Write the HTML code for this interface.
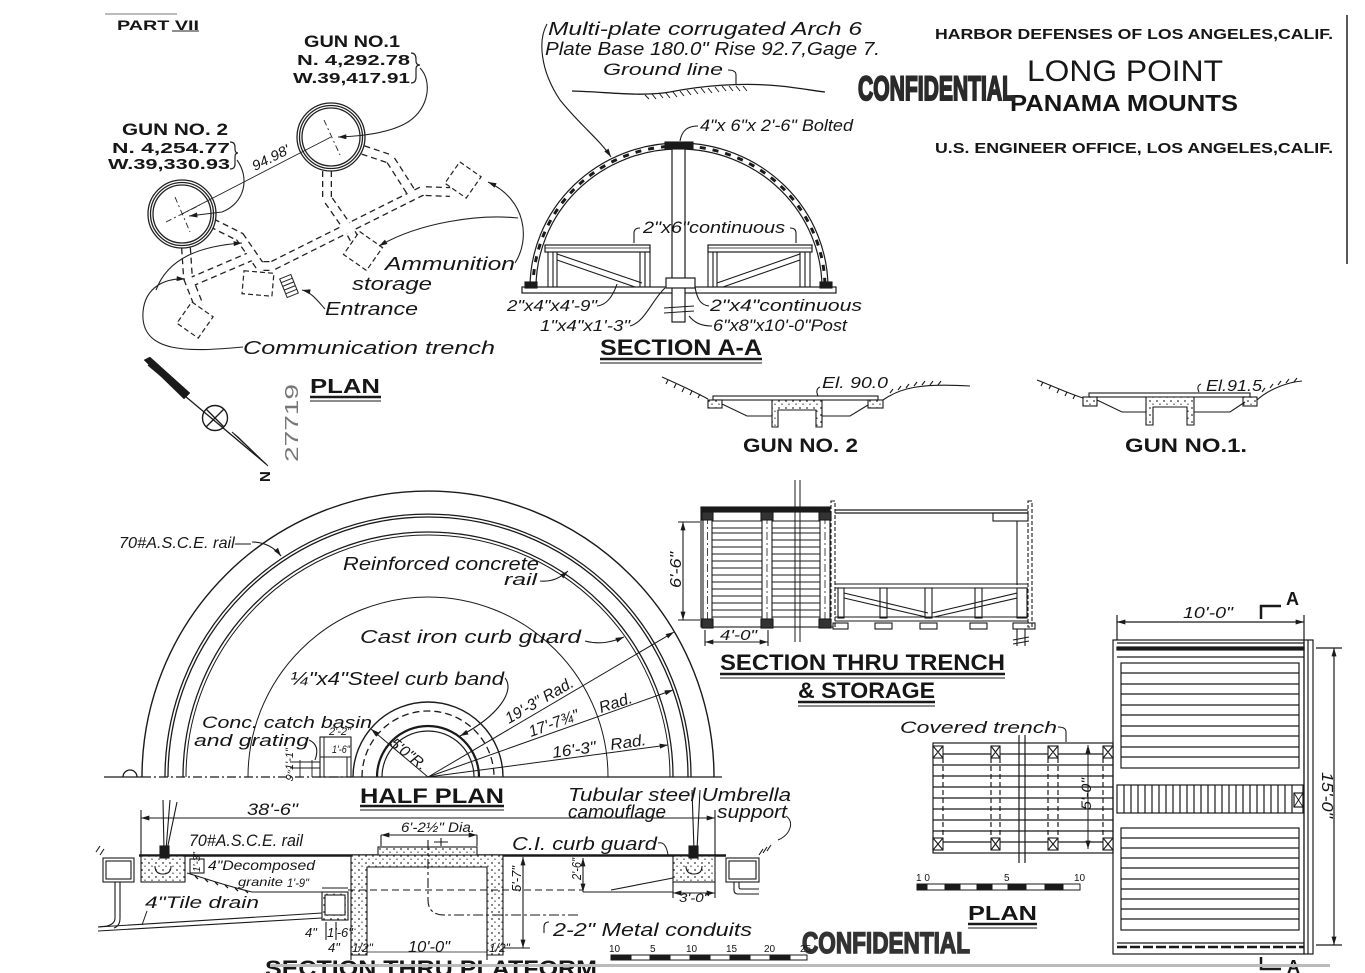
<!DOCTYPE html>
<html><head><meta charset="utf-8">
<style>
html,body{margin:0;padding:0;background:#fff;}
svg{display:block;}
text{font-family:"Liberation Sans",sans-serif;fill:#161616;}
.i{font-style:italic;}
.b{font-weight:bold;}
</style></head><body>
<svg width="1365" height="973" viewBox="0 0 1365 973" xmlns="http://www.w3.org/2000/svg">
<defs>
<marker id="ah" viewBox="0 0 10 6" refX="10" refY="3" markerWidth="9" markerHeight="5" orient="auto-start-reverse" markerUnits="userSpaceOnUse"><path d="M0,0 L10,3 L0,6 z" fill="#1a1a1a"/></marker>
<pattern id="st" width="7" height="7" patternUnits="userSpaceOnUse"><rect width="7" height="7" fill="#fff"/><circle cx="2" cy="2" r="0.9" fill="#333"/><circle cx="5" cy="5.2" r="0.7" fill="#333"/></pattern>
</defs>
<rect width="1365" height="973" fill="#fff"/>

<!-- ============ TOP-LEFT PLAN ============ -->
<line x1="105" y1="14" x2="177" y2="14" stroke="#777" stroke-width="1"/>
<text x="117" y="30" class="b" font-size="14" textLength="82" lengthAdjust="spacingAndGlyphs">PART VII</text>
<line x1="172" y1="31" x2="199" y2="31" stroke="#222" stroke-width="1"/>

<text x="304" y="47" class="b" font-size="17" textLength="96" lengthAdjust="spacingAndGlyphs">GUN NO.1</text>
<text x="297" y="65" class="b" font-size="15" textLength="113" lengthAdjust="spacingAndGlyphs">N. 4,292.78</text>
<text x="293" y="83" class="b" font-size="15" textLength="117" lengthAdjust="spacingAndGlyphs">W.39,417.91</text>
<path d="M411,53 q5,0 5,6 v2 q0,4 4,4 q-4,0 -4,4 v8 q0,6 -5,6" fill="none" stroke="#222" stroke-width="1.2"/>

<text x="122" y="135" class="b" font-size="17" textLength="106" lengthAdjust="spacingAndGlyphs">GUN NO. 2</text>
<text x="112" y="153" class="b" font-size="15" textLength="118" lengthAdjust="spacingAndGlyphs">N. 4,254.77</text>
<text x="108" y="169" class="b" font-size="15" textLength="122" lengthAdjust="spacingAndGlyphs">W.39,330.93</text>
<path d="M230,142 q5,0 5,5 v2 q0,4 3,4 q-3,0 -3,4 v7 q0,5 -5,5" fill="none" stroke="#222" stroke-width="1.2"/>

<!-- trenches (dashed double lines) -->
<g fill="none" stroke-linejoin="miter">
<g stroke="#222" stroke-width="10" stroke-dasharray="6 4">
<path d="M327,171 L327,198 L350,231 L356,242"/>
<path d="M212,223 L240,237 L260,266 L272,266 L410,197 L422,191 L450,192"/>
<path d="M363,150 L390,159 L413,195"/>
<path d="M186,248 L188,278 L199,306"/>
<path d="M191,282 L254,255"/>
</g>
<g stroke="#fff" stroke-width="7.4">
<path d="M327,171 L327,198 L350,231 L356,242"/>
<path d="M212,223 L240,237 L260,266 L272,266 L410,197 L422,191 L450,192"/>
<path d="M363,150 L390,159 L413,195"/>
<path d="M186,248 L188,278 L199,306"/>
<path d="M191,282 L254,255"/>
</g>
</g>
<g fill="#fff" stroke="#222" stroke-width="1.2" stroke-dasharray="5 3">
<rect x="-14" y="-14" width="28" height="28" transform="translate(363,251) rotate(35)"/>
<rect x="-13" y="-13" width="26" height="26" transform="translate(463,180) rotate(35)"/>
<rect x="-13" y="-13" width="26" height="26" transform="translate(195,320) rotate(35)"/>
<rect x="243" y="272" width="30" height="23" transform="rotate(5 258 283)"/>
</g>
<g transform="translate(289,286) rotate(-22)" stroke="#222" fill="none" stroke-width="1">
<rect x="-6" y="-10" width="12" height="20"/>
<line x1="-6" y1="-6" x2="6" y2="-6"/><line x1="-6" y1="-2" x2="6" y2="-2"/><line x1="-6" y1="2" x2="6" y2="2"/><line x1="-6" y1="6" x2="6" y2="6"/>
</g>

<!-- gun circles -->
<g fill="#fff" stroke="#222" stroke-width="1.3">
<circle cx="331" cy="137" r="34"/><circle cx="331" cy="137" r="31.5"/><circle cx="331" cy="137" r="29"/>
<circle cx="182" cy="214" r="34"/><circle cx="182" cy="214" r="31.5"/><circle cx="182" cy="214" r="29"/>
</g>
<g stroke="#222" stroke-width="0.9" fill="none">
<line x1="182" y1="214" x2="331" y2="137"/>
<line x1="324" y1="120" x2="340" y2="155" stroke-dasharray="6 3 2 3"/>
<line x1="175" y1="197" x2="190" y2="232" stroke-dasharray="6 3 2 3"/>
<line x1="166" y1="222" x2="200" y2="205" stroke-dasharray="6 3 2 3"/>
</g>
<text class="i" font-size="14" transform="translate(255,171) rotate(-27)" textLength="40" lengthAdjust="spacingAndGlyphs">94.98'</text>

<!-- leaders -->
<g fill="none" stroke="#222" stroke-width="1.1">
<path d="M420,68 C432,80 430,108 408,122 C392,132 365,136 338,137" marker-end="url(#ah)"/>
<path d="M237,160 C250,178 245,203 222,212 L189,216" marker-end="url(#ah)"/>
<path d="M243,347 C190,352 140,354 143,312 C145,287 165,278 185,279" marker-end="url(#ah)"/>
<path d="M156,290 C168,258 200,246 242,243" marker-end="url(#ah)"/>
<path d="M515,263 C530,240 527,200 488,182" marker-end="url(#ah)"/>
<path d="M518,218 C480,214 420,222 379,246" marker-end="url(#ah)"/>
<path d="M325,309 C317,300 311,292 302,290" marker-end="url(#ah)"/>
</g>
<text x="385" y="270" class="i" font-size="18" textLength="130" lengthAdjust="spacingAndGlyphs">Ammunition</text>
<text x="352" y="290" class="i" font-size="18" textLength="80" lengthAdjust="spacingAndGlyphs">storage</text>
<text x="325" y="315" class="i" font-size="18" textLength="93" lengthAdjust="spacingAndGlyphs">Entrance</text>
<text x="243" y="354" class="i" font-size="18" textLength="252" lengthAdjust="spacingAndGlyphs">Communication  trench</text>

<!-- north arrow -->
<g stroke="#1a1a1a" fill="#1a1a1a">
<line x1="148" y1="365" x2="266" y2="464" stroke-width="1.3"/>
<polygon points="144,360 150,357 190,393 184,399" stroke-width="0.5"/>
<polygon points="232,432 238,437 268,466" stroke-width="1"/>
<circle cx="215" cy="418" r="12.5" fill="none" stroke-width="1.4"/>
<line x1="206" y1="409" x2="224" y2="427" stroke-width="1.3"/>
<line x1="224" y1="409" x2="206" y2="427" stroke-width="1.3"/>
</g>
<text class="b" font-size="15" transform="translate(270,482) rotate(-90)">N</text>
<text font-size="18" transform="translate(298,462) rotate(-90)" textLength="78" lengthAdjust="spacingAndGlyphs" style="fill:#777">27719</text>
<text x="310" y="393" class="b" font-size="20" textLength="70" lengthAdjust="spacingAndGlyphs">PLAN</text>
<line x1="310" y1="397" x2="381" y2="397" stroke="#1a1a1a" stroke-width="2.5"/>
<line x1="310" y1="401" x2="381" y2="401" stroke="#1a1a1a" stroke-width="1"/>

<!-- ============ SECTION A-A ============ -->
<text x="548" y="35" class="i" font-size="18" textLength="314" lengthAdjust="spacingAndGlyphs">Multi-plate corrugated Arch 6</text>
<text x="545" y="55" class="i" font-size="18" textLength="335" lengthAdjust="spacingAndGlyphs">Plate Base 180.0" Rise 92.7,Gage 7.</text>
<text x="603" y="75" class="i" font-size="17" textLength="120" lengthAdjust="spacingAndGlyphs">Ground line</text>
<g fill="none" stroke="#1a1a1a" stroke-width="1.1">
<path d="M547,24 C538,40 540,70 560,100 C580,125 600,140 611,157" marker-end="url(#ah)"/>
<path d="M728,70 q8,0 8,5 v10"/>
<path d="M572,91 C610,92 640,97 670,92 C700,86 740,82 780,86 C800,88 815,91 825,92" stroke-width="1.3"/>
<path d="M645,95 l4,4 M652,94 l4,5 M659,93 l4,5 M666,93 l4,5 M673,92 l4,5 M680,91 l4,5 M687,90 l4,5 M694,89 l4,5 M701,88 l4,5 M708,88 l4,5 M715,87 l4,5 M722,86 l4,5 M729,86 l4,5 M736,86 l4,5 M743,86 l4,5" stroke-width="1"/>
<!-- arch -->
<path d="M530,288 A149,145 0 0 1 828,288" stroke-width="1.2"/>
<path d="M536,288 A143,139 0 0 1 822,288" stroke-width="1.2"/>
<path d="M533,288 A146,142 0 0 1 825,288" stroke-width="3" stroke-dasharray="6 7"/>
<rect x="522" y="287" width="314" height="6" stroke-width="1.2"/>
<!-- post -->
<rect x="672" y="147" width="13" height="175" fill="#fff" stroke-width="1.2"/>
<rect x="665" y="142" width="28" height="7" fill="#1a1a1a"/>
<rect x="666" y="278" width="29" height="10" fill="#fff" stroke-width="1.2"/>
<path d="M664,308 l30,-2 M664,313 l30,-2" stroke-width="1"/>
<!-- benches -->
<rect x="545" y="245" width="105" height="7" stroke-width="1.2"/>
<line x1="545" y1="248" x2="650" y2="248" stroke-width="0.8"/>
<path d="M548,252 V287 M553,252 V287 M557,252 V287 M640,252 V287 M645,252 V287 M650,252 V287" stroke-width="1.1"/>
<path d="M557,254 L642,283 M557,260 L635,287" stroke-width="1.1"/>
<rect x="708" y="245" width="104" height="7" stroke-width="1.2"/>
<line x1="708" y1="248" x2="812" y2="248" stroke-width="0.8"/>
<path d="M708,252 V287 M713,252 V287 M717,252 V287 M800,252 V287 M805,252 V287 M810,252 V287" stroke-width="1.1"/>
<path d="M717,283 L800,254 M723,287 L800,260" stroke-width="1.1"/>
<rect x="525" y="282" width="12" height="6" fill="#1a1a1a"/>
<rect x="820" y="282" width="12" height="6" fill="#1a1a1a"/>
<!-- leaders -->
<path d="M698,126 C688,126 682,130 680,141" />
<path d="M640,228 q-6,0 -6,5 v10 M790,228 q6,0 6,5 v10"/>
<path d="M597,306 C607,305 613,296 617,284"/>
<path d="M630,326 C645,322 652,300 665,288"/>
<path d="M709,306 C700,305 697,298 695,287"/>
<path d="M712,326 C700,326 694,322 689,316"/>
</g>
<text x="700" y="131" class="i" font-size="17" textLength="153" lengthAdjust="spacingAndGlyphs">4"x 6"x 2'-6" Bolted</text>
<text x="643" y="233" class="i" font-size="17" textLength="142" lengthAdjust="spacingAndGlyphs">2"x6"continuous</text>
<text x="507" y="311" class="i" font-size="16" textLength="90" lengthAdjust="spacingAndGlyphs">2"x4"x4'-9"</text>
<text x="540" y="331" class="i" font-size="16" textLength="90" lengthAdjust="spacingAndGlyphs">1"x4"x1'-3"</text>
<text x="710" y="311" class="i" font-size="17" textLength="152" lengthAdjust="spacingAndGlyphs">2"x4"continuous</text>
<text x="713" y="331" class="i" font-size="17" textLength="134" lengthAdjust="spacingAndGlyphs">6"x8"x10'-0"Post</text>
<text x="600" y="355" class="b" font-size="22" textLength="162" lengthAdjust="spacingAndGlyphs">SECTION A-A</text>
<line x1="600" y1="359" x2="762" y2="359" stroke="#1a1a1a" stroke-width="2.5"/>
<line x1="600" y1="363" x2="762" y2="363" stroke="#1a1a1a" stroke-width="1"/>

<!-- ============ GUN SECTIONS ============ -->
<g fill="none" stroke="#1a1a1a" stroke-width="1.1">
<path d="M662,377 C680,385 695,392 708,399"/>
<path d="M668,380 l-2,4 M676,384 l-2,4 M684,388 l-2,4 M692,391 l-2,4 M700,394 l-2,4" />
<rect x="713" y="396" width="165" height="4"/>
<rect x="708" y="400" width="14" height="8" fill="url(#st)"/>
<rect x="868" y="400" width="15" height="8" fill="url(#st)"/>
<path d="M722,404 L747,416 L772,416 M822,416 L850,416 L868,405"/>
<path d="M772,400 L772,427 L778,427 L778,410 L816,410 L816,427 L822,427 L822,400 Z" fill="url(#st)"/>
<path d="M883,400 C900,388 920,383 970,386"/>
<path d="M890,393 l3,-4 M898,390 l3,-4 M906,388 l3,-4 M914,386 l3,-4 M922,385 l3,-4 M930,385 l3,-4 M938,385 l3,-4" />
<path d="M820,387 q-5,2 -2,9" />
<path d="M1037,380 C1055,387 1070,394 1083,398"/>
<path d="M1043,382 l-2,4 M1051,385 l-2,4 M1059,389 l-2,4 M1067,392 l-2,4 M1075,395 l-2,4"/>
<rect x="1089" y="393" width="161" height="4"/>
<rect x="1083" y="397" width="14" height="9" fill="url(#st)"/>
<rect x="1243" y="397" width="14" height="9" fill="url(#st)"/>
<path d="M1097,400 L1122,412 L1146,412 M1194,412 L1230,412 L1245,402"/>
<path d="M1146,397 L1146,425 L1153,425 L1153,407 L1187,407 L1187,425 L1194,425 L1194,397 Z" fill="url(#st)"/>
<path d="M1257,400 C1270,388 1290,382 1302,381"/>
<path d="M1262,392 l3,-4 M1270,388 l3,-4 M1278,385 l3,-4 M1286,383 l3,-4 M1294,382 l3,-4"/>
<path d="M1201,384 q-5,2 -2,8"/>
</g>
<text x="822" y="388" class="i" font-size="16" textLength="66" lengthAdjust="spacingAndGlyphs">El. 90.0</text>
<text x="743" y="452" class="b" font-size="19" textLength="115" lengthAdjust="spacingAndGlyphs">GUN NO. 2</text>
<text x="1206" y="391" class="i" font-size="16" textLength="56" lengthAdjust="spacingAndGlyphs">El.91.5</text>
<text x="1125" y="452" class="b" font-size="19" textLength="122" lengthAdjust="spacingAndGlyphs">GUN NO.1.</text>

<!-- ============ TITLE ============ -->
<text x="935" y="39" class="b" font-size="15" textLength="398" lengthAdjust="spacingAndGlyphs">HARBOR DEFENSES OF LOS ANGELES,CALIF.</text>
<text x="1027" y="81" font-size="30" textLength="196" lengthAdjust="spacingAndGlyphs">LONG POINT</text>
<text x="1010" y="111" class="b" font-size="23" textLength="228" lengthAdjust="spacingAndGlyphs">PANAMA MOUNTS</text>
<text x="935" y="153" class="b" font-size="15" textLength="398" lengthAdjust="spacingAndGlyphs">U.S. ENGINEER OFFICE, LOS ANGELES,CALIF.</text>
<text x="858" y="100" class="b" font-size="34" textLength="157" lengthAdjust="spacingAndGlyphs" style="fill:#2a2a2a;stroke:#2a2a2a;stroke-width:2">CONFIDENTIAL</text>
<line x1="1347" y1="15" x2="1347" y2="264" stroke="#222" stroke-width="1.5"/>

<!-- ============ TRENCH SECTION ============ -->
<g fill="none" stroke="#1a1a1a" stroke-width="1.1">
<rect x="701" y="508" width="129" height="119"/>
<rect x="701" y="507" width="129" height="5" fill="#1a1a1a"/>
<path d="M712,533 H762 M712,540 H762 M712,547 H762 M712,554 H762 M712,561 H762 M712,568 H762 M712,575 H762 M712,582 H762 M712,589 H762 M712,596 H762 M712,603 H762 M712,610 H762 M712,617 H762 M712,521 H762 M712,528 H762"/>
<path d="M772,533 H820 M772,540 H820 M772,547 H820 M772,554 H820 M772,561 H820 M772,568 H820 M772,575 H820 M772,582 H820 M772,589 H820 M772,596 H820 M772,603 H820 M772,610 H820 M772,617 H820 M772,521 H820 M772,528 H820"/>
<rect x="703" y="512" width="9" height="115" fill="#fff"/>
<rect x="762" y="512" width="10" height="115" fill="#fff"/>
<rect x="820" y="512" width="10" height="115" fill="#fff"/>
<path d="M707.5,516 V622 M767,516 V622 M825,516 V622" stroke-dasharray="8 3 2 3" stroke-width="0.8"/>
<rect x="702" y="512" width="11" height="8" fill="#333"/><rect x="761" y="512" width="12" height="8" fill="#333"/><rect x="819" y="512" width="12" height="8" fill="#333"/>
<rect x="702" y="619" width="11" height="9" fill="#333"/><rect x="761" y="619" width="12" height="9" fill="#333"/><rect x="819" y="619" width="12" height="9" fill="#333"/>
<path d="M795,480 V642 M800,480 V642" stroke-width="1"/>
<rect x="831" y="501" width="4" height="126" stroke-dasharray="4 2"/>
<rect x="1028" y="501" width="4" height="126" stroke-dasharray="4 2"/>
<path d="M835,510 H1028 M835,513 H1028" stroke-width="1.3"/>
<rect x="993" y="513" width="35" height="8"/>
<path d="M1017,521 V585"/>
<path d="M835,584 H1028 M835,588 H1028"/>
<rect x="838" y="588" width="6" height="30"/><rect x="880" y="588" width="7" height="30"/><rect x="925" y="588" width="7" height="30"/><rect x="975" y="588" width="7" height="30"/><rect x="1017" y="588" width="10" height="30"/>
<path d="M844,593 L928,613 M844,598 L926,617 M932,613 L1017,593 M934,617 L1017,598"/>
<path d="M835,617 H1028 M835,621 H1028"/>
<rect x="833" y="623" width="15" height="6"/><rect x="875" y="623" width="17" height="6"/><rect x="920" y="623" width="17" height="6"/><rect x="970" y="623" width="17" height="6"/><rect x="1013" y="623" width="22" height="6"/>
<path d="M1017,629 V646 M1025,629 V646 M1013,640 l16,-3 M1013,644 l16,-3"/>
<path d="M678,522 H700 M678,620 H700 M705,630 V646 M768,630 V646"/>
<line x1="683" y1="522" x2="683" y2="620" marker-start="url(#ah)" marker-end="url(#ah)"/>
<line x1="705" y1="642" x2="768" y2="642" marker-start="url(#ah)" marker-end="url(#ah)"/>
</g>
<text class="i" font-size="16" transform="translate(681,588) rotate(-90)" textLength="36" lengthAdjust="spacingAndGlyphs">6'-6"</text>
<text x="720" y="640" class="i" font-size="15" textLength="37" lengthAdjust="spacingAndGlyphs">4'-0"</text>
<text x="720" y="670" class="b" font-size="22" textLength="285" lengthAdjust="spacingAndGlyphs">SECTION THRU TRENCH</text>
<line x1="720" y1="674" x2="1005" y2="674" stroke="#1a1a1a" stroke-width="2.5"/>
<line x1="720" y1="678" x2="1005" y2="678" stroke="#1a1a1a" stroke-width="1"/>
<text x="798" y="698" class="b" font-size="22" textLength="137" lengthAdjust="spacingAndGlyphs">&amp; STORAGE</text>
<line x1="798" y1="702" x2="935" y2="702" stroke="#1a1a1a" stroke-width="2.5"/>
<line x1="798" y1="706" x2="935" y2="706" stroke="#1a1a1a" stroke-width="1"/>

<!-- ============ STORAGE PLAN ============ -->
<g fill="none" stroke="#1a1a1a" stroke-width="1.2">
<rect x="1113" y="640" width="191" height="314"/>
<rect x="1304" y="640" width="9" height="314"/>
<line x1="1308" y1="640" x2="1308" y2="954"/>
<path d="M1117,643 H1304"/>
<rect x="1117" y="647" width="187" height="3" fill="#1a1a1a"/>
<path d="M1117,657 H1304"/>
<rect x="1121" y="663" width="178" height="105"/>
<path d="M1121,673 H1299 M1121,684 H1299 M1121,694 H1299 M1121,705 H1299 M1121,715 H1299 M1121,726 H1299 M1121,736 H1299 M1121,747 H1299 M1121,757 H1299"/>
<rect x="1117" y="785" width="186" height="28"/>
<path d="M1124,785V813 M1131,785V813 M1138,785V813 M1145,785V813 M1152,785V813 M1159,785V813 M1166,785V813 M1173,785V813 M1180,785V813 M1187,785V813 M1194,785V813 M1201,785V813 M1208,785V813 M1215,785V813 M1222,785V813 M1229,785V813 M1236,785V813 M1243,785V813 M1250,785V813 M1257,785V813 M1264,785V813 M1271,785V813 M1278,785V813 M1285,785V813 M1292,785V813"/>
<rect x="1294" y="793" width="9" height="14" fill="#fff"/>
<path d="M1294,793 l9,14 M1303,793 l-9,14" stroke-width="0.9"/>
<rect x="1121" y="828" width="178" height="102"/>
<path d="M1121,838 H1299 M1121,848 H1299 M1121,858 H1299 M1121,868 H1299 M1121,879 H1299 M1121,889 H1299 M1121,899 H1299 M1121,909 H1299 M1121,919 H1299"/>
<path d="M1117,943 H1304"/>
<path d="M1117,947 H1304" stroke-width="2.5" stroke-dasharray="10 3"/>
<path d="M1117,640 V615 M1304,640 V615"/>
<line x1="1117" y1="622" x2="1304" y2="622" marker-start="url(#ah)" marker-end="url(#ah)"/>
<path d="M1316,648 H1342 M1316,945 H1342"/>
<line x1="1334" y1="648" x2="1334" y2="945" marker-start="url(#ah)" marker-end="url(#ah)"/>
<path d="M1261,619 V606 H1281" stroke-width="2.5"/>
<path d="M1261,957 V969 H1281" stroke-width="2.5"/>
<!-- covered trench -->
<rect x="933" y="743" width="180" height="110"/>
<path d="M933,754 H1113 M933,765 H1113 M933,776 H1113 M933,787 H1113 M933,798 H1113 M933,809 H1113 M933,820 H1113 M933,831 H1113 M933,842 H1113"/>
<path d="M943,758 V838 M991,758 V838 M1000,758 V838 M1048,758 V838 M1058,758 V838 M1103,758 V838" stroke-dasharray="5 3"/>
<path d="M1019,735 V863 M1025,735 V863" fill="none"/>
<line x1="1088" y1="745" x2="1088" y2="849" marker-start="url(#ah)" marker-end="url(#ah)" stroke-width="1"/>
<path d="M1058,727 q8,0 8,5 v10" stroke-width="1.1"/>
</g>
<g fill="#fff" stroke="#1a1a1a" stroke-width="1.1">
<rect x="933" y="746" width="10" height="12"/><rect x="991" y="746" width="9" height="12"/><rect x="1048" y="746" width="10" height="12"/><rect x="1103" y="746" width="10" height="12"/>
<rect x="933" y="838" width="10" height="12"/><rect x="991" y="838" width="9" height="12"/><rect x="1048" y="838" width="10" height="12"/><rect x="1103" y="838" width="10" height="12"/>
<path d="M933,746 l10,12 M943,746 l-10,12 M991,746 l9,12 M1000,746 l-9,12 M1048,746 l10,12 M1058,746 l-10,12 M1103,746 l10,12 M1113,746 l-10,12 M933,838 l10,12 M943,838 l-10,12 M991,838 l9,12 M1000,838 l-9,12 M1048,838 l10,12 M1058,838 l-10,12 M1103,838 l10,12 M1113,838 l-10,12" fill="none"/>
</g>
<text x="1183" y="618" class="i" font-size="16" textLength="50" lengthAdjust="spacingAndGlyphs">10'-0"</text>
<text class="i" font-size="16" transform="translate(1322,772) rotate(90)" textLength="46" lengthAdjust="spacingAndGlyphs">15'-0"</text>
<text class="i" font-size="14" transform="translate(1091,810) rotate(-90)" textLength="32" lengthAdjust="spacingAndGlyphs">5'-0"</text>
<text x="1286" y="605" class="b" font-size="18">A</text>
<text x="1287" y="973" class="b" font-size="18">A</text>
<text x="900" y="733" class="i" font-size="17" textLength="157" lengthAdjust="spacingAndGlyphs">Covered trench</text>
<g stroke="#1a1a1a" stroke-width="1">
<rect x="917" y="884" width="163" height="6" fill="#fff"/>
<rect x="917" y="884" width="10" height="6" fill="#1a1a1a"/><rect x="945" y="884" width="15" height="6" fill="#1a1a1a"/><rect x="977" y="884" width="15" height="6" fill="#1a1a1a"/><rect x="1008" y="884" width="18" height="6" fill="#1a1a1a"/><rect x="1045" y="884" width="18" height="6" fill="#1a1a1a"/>
</g>
<text x="916" y="881" font-size="10">1 0</text>
<text x="1004" y="881" font-size="10">5</text>
<text x="1074" y="881" font-size="10">10</text>
<text x="968" y="920" class="b" font-size="20" textLength="69" lengthAdjust="spacingAndGlyphs">PLAN</text>
<line x1="968" y1="924" x2="1037" y2="924" stroke="#1a1a1a" stroke-width="2.5"/>
<line x1="968" y1="928" x2="1037" y2="928" stroke="#1a1a1a" stroke-width="1"/>
<text x="802" y="953" class="b" font-size="30" textLength="168" lengthAdjust="spacingAndGlyphs" style="fill:#333;stroke:#333;stroke-width:1.5">CONFIDENTIAL</text>

<!-- ============ HALF PLAN ============ -->
<g fill="none" stroke="#1a1a1a">
<path d="M142,777 A286,286 0 0 1 714,777" stroke-width="1.4"/>
<path d="M165,777 A263,263 0 0 1 691,777" stroke-width="1.3"/>
<path d="M168,777 A260,260 0 0 1 688,777" stroke-width="1.3"/>
<path d="M183,777 A245,245 0 0 1 673,777" stroke-width="1.3"/>
<path d="M186,777 A242,242 0 0 1 670,777" stroke-width="1"/>
<path d="M248,777 A180,180 0 0 1 608,777" stroke-width="1"/>
<path d="M353,777 A75,75 0 0 1 503,777" stroke-width="1.4"/>
<path d="M362,777 A66,66 0 0 1 494,777" stroke-width="1.3" stroke-dasharray="7 4"/>
<path d="M377,777 A51,51 0 0 1 479,777" stroke-width="2.2"/>
<path d="M382,777 A46,46 0 0 1 474,777" stroke-width="1.2"/>
<path d="M104,777 H142" stroke-width="1.2"/>
<path d="M142,777 H352" stroke-width="1.2" stroke-dasharray="9 3 2 3"/>
<path d="M352,777 H722" stroke-width="1.2"/>
<path d="M123,777 A7,7 0 0 1 137,777" stroke-width="1.3"/>
<g stroke-width="1">
<line x1="428" y1="777" x2="674" y2="632" marker-end="url(#ah)"/>
<line x1="428" y1="777" x2="673" y2="690" marker-end="url(#ah)"/>
<line x1="428" y1="777" x2="668" y2="745" marker-end="url(#ah)"/>
<line x1="428" y1="777" x2="371" y2="729" marker-end="url(#ah)"/>
</g>
<rect x="320" y="737" width="31" height="40" stroke-width="1.1"/>
<path d="M320,757 H351 M324,737 V777 M347,757 V777" stroke-width="1"/>
<path d="M290,762 H320 M290,768 H320 M300,760 V777 M312,760 V777" stroke-width="0.9"/>
<g stroke-width="1.1">
<path d="M252,542 C265,542 275,548 281,556" marker-end="url(#ah)"/>
<path d="M540,581 C552,582 560,578 568,571" marker-end="url(#ah)"/>
<path d="M585,641 C600,645 612,642 624,637" marker-end="url(#ah)"/>
<path d="M505,678 C515,690 500,715 460,736" marker-end="url(#ah)"/>
<path d="M309,740 C318,744 318,752 315,760"/>
</g>
</g>
<text x="119" y="548" class="i" font-size="16" textLength="132" lengthAdjust="spacingAndGlyphs">70#A.S.C.E. rail—</text>
<text x="343" y="570" class="i" font-size="18" textLength="196" lengthAdjust="spacingAndGlyphs">Reinforced concrete</text>
<text x="504" y="585" class="i" font-size="17" textLength="33" lengthAdjust="spacingAndGlyphs">rail</text>
<text x="360" y="643" class="i" font-size="18" textLength="221" lengthAdjust="spacingAndGlyphs">Cast iron curb guard</text>
<text x="290" y="685" class="i" font-size="18" textLength="214" lengthAdjust="spacingAndGlyphs">¼"x4"Steel curb band</text>
<text x="202" y="728" class="i" font-size="17" textLength="170" lengthAdjust="spacingAndGlyphs">Conc. catch basin</text>
<text x="194" y="746" class="i" font-size="17" textLength="115" lengthAdjust="spacingAndGlyphs">and grating</text>
<text x="329" y="735" class="i" font-size="11" textLength="22" lengthAdjust="spacingAndGlyphs">2'-2"</text>
<text x="332" y="753" class="i" font-size="11" textLength="18" lengthAdjust="spacingAndGlyphs">1'-6"</text>
<text class="i" font-size="11" transform="translate(293,770) rotate(-90)">1'-1"</text>
<text class="i" font-size="11" transform="translate(292,782) rotate(-70)">9"</text>
<text class="i" font-size="15" transform="translate(389,745) rotate(38)" textLength="42" lengthAdjust="spacingAndGlyphs">5'0"R.</text>
<text class="i" font-size="16" transform="translate(509,724) rotate(-30)" textLength="76" lengthAdjust="spacingAndGlyphs">19'-3" Rad.</text>
<text class="i" font-size="16" transform="translate(531,737) rotate(-20)" textLength="52" lengthAdjust="spacingAndGlyphs">17'-7¾"</text>
<text class="i" font-size="16" transform="translate(601,713) rotate(-18)" textLength="34" lengthAdjust="spacingAndGlyphs">Rad.</text>
<text class="i" font-size="16" transform="translate(553,758) rotate(-8)" textLength="44" lengthAdjust="spacingAndGlyphs">16'-3"</text>
<text class="i" font-size="16" transform="translate(611,750) rotate(-8)" textLength="36" lengthAdjust="spacingAndGlyphs">Rad.</text>
<text x="360" y="803" class="b" font-size="21" textLength="144" lengthAdjust="spacingAndGlyphs">HALF PLAN</text>
<line x1="360" y1="806" x2="504" y2="806" stroke="#1a1a1a" stroke-width="2.5"/>
<line x1="360" y1="810" x2="504" y2="810" stroke="#1a1a1a" stroke-width="1"/>

<!-- ============ SECTION THRU PLATFORM ============ -->
<g fill="none" stroke="#1a1a1a" stroke-width="1.1">
<line x1="141" y1="818" x2="715" y2="818" marker-start="url(#ah)" marker-end="url(#ah)"/>
<path d="M141,810 V856 M715,810 V856"/>
<path d="M163,800 L164,850 M170,800 L166,850 M177,802 L167,850 M692,790 L694,850 M700,790 L697,850"/>
<path d="M139,855.5 H726" stroke-width="2.4"/>
<rect x="141" y="856" width="44" height="26" fill="url(#st)"/>
<rect x="673" y="856" width="42" height="26" fill="url(#st)"/>
<rect x="160" y="846" width="9" height="12" fill="#1a1a1a"/>
<rect x="689" y="846" width="9" height="12" fill="#1a1a1a"/>
<path d="M155,866 q0,8 8,8 q8,0 8,-8 M686,866 q0,8 8,8 q8,0 8,-8"/>
<rect x="103" y="858" width="31" height="24"/>
<rect x="106" y="861" width="25" height="18"/>
<rect x="726" y="858" width="33" height="24"/>
<rect x="729" y="861" width="27" height="18"/>
<path d="M115,882 V918 q0,6 -8,8 L98,927 M120,882 V918 q0,8 -6,10"/>
<path d="M98,927 C130,925 220,920 322,913 M98,931 C130,929 220,924 322,918"/>
<path d="M96,852 l4,-6 M100,855 l4,-6 M759,855 l4,-6 M763,853 l4,-6 M767,851 l4,-6"/>
<path d="M734,882 V890 q0,4 4,4 H759 M739,882 V887 q0,2 2,2 H759"/>
<path d="M187,873 C210,880 230,887 252,892"/>
<path d="M195,876 l3,3 M205,879 l3,3 M215,882 l3,3 M225,885 l3,3 M235,888 l3,3 M245,890 l3,3" stroke-width="1.3"/>
<rect x="190" y="859" width="14" height="14"/>
<path d="M252,892 H322"/>
<path d="M322,888 H348"/>
<rect x="322" y="892" width="26" height="28" fill="url(#st)"/>
<rect x="325" y="895" width="20" height="20" fill="#fff"/>
<path d="M351,855 L351,955 L367,955 L367,867 L487,867 L487,955 L503,955 L503,855 Z" fill="url(#st)"/>
<rect x="378" y="847" width="99" height="8" fill="url(#st)"/>
<path d="M381,835 V846 M477,835 V846"/>
<line x1="381" y1="835" x2="477" y2="835" marker-start="url(#ah)" marker-end="url(#ah)"/>
<path d="M434,842 H448 M441,838 V846"/>
<path d="M348,890 H583" stroke-dasharray="7 4"/>
<path d="M428,840 V900 Q428,915 445,915 H580" stroke-dasharray="10 3 3 3"/>
<path d="M611,890 L673,878 M583,892 H673"/>
<line x1="583" y1="858" x2="583" y2="892" marker-start="url(#ah)" marker-end="url(#ah)"/>
<line x1="523" y1="857" x2="523" y2="948" marker-start="url(#ah)" marker-end="url(#ah)"/>
<path d="M503,948 H530"/>
<line x1="673" y1="893" x2="715" y2="893" marker-start="url(#ah)" marker-end="url(#ah)"/>
<path d="M673,882 V898 M715,882 V898"/>
<path d="M549,922 q-5,0 -5,5 v6"/>
<line x1="367" y1="952" x2="487" y2="952" stroke-width="0.8"/>
<path d="M326,922 V940 M336,922 V940 M351,940 V960 M487,940 V960"/>
</g>
<text x="568" y="801" class="i" font-size="18" textLength="223" lengthAdjust="spacingAndGlyphs">Tubular steel Umbrella</text>
<text x="568" y="818" class="i" font-size="18" textLength="98" lengthAdjust="spacingAndGlyphs">camouflage</text>
<text x="717" y="818" class="i" font-size="18" textLength="70" lengthAdjust="spacingAndGlyphs">support</text>
<path d="M786,816 C795,822 790,835 778,840" fill="none" stroke="#1a1a1a" stroke-width="1"/>
<text x="247" y="815" class="i" font-size="17" textLength="51" lengthAdjust="spacingAndGlyphs">38'-6"</text>
<text x="401" y="832" class="i" font-size="14" textLength="74" lengthAdjust="spacingAndGlyphs">6'-2½" Dia.</text>
<text x="189" y="846" class="i" font-size="17" textLength="114" lengthAdjust="spacingAndGlyphs">70#A.S.C.E. rail</text>
<text x="512" y="850" class="i" font-size="18" textLength="145" lengthAdjust="spacingAndGlyphs">C.I. curb guard</text>
<path d="M658,843 q8,-2 10,12" fill="none" stroke="#1a1a1a" stroke-width="1"/>
<text x="208" y="870" class="i" font-size="14" textLength="107" lengthAdjust="spacingAndGlyphs">4"Decomposed</text>
<text x="238" y="886" class="i" font-size="12" textLength="45" lengthAdjust="spacingAndGlyphs">granite</text>
<text x="287" y="887" class="i" font-size="12" textLength="22" lengthAdjust="spacingAndGlyphs">1'-9"</text>
<text class="i" font-size="10" transform="translate(200,872) rotate(-90)">1'-3"</text>
<text x="145" y="908" class="i" font-size="17" textLength="114" lengthAdjust="spacingAndGlyphs">4"Tile drain</text>
<path d="M147,911 L142,925" fill="none" stroke="#1a1a1a" stroke-width="1"/>
<text class="i" font-size="13" transform="translate(581,880) rotate(-90)" textLength="22" lengthAdjust="spacingAndGlyphs">2'-6"</text>
<text class="i" font-size="13" transform="translate(521,892) rotate(-90)" textLength="26" lengthAdjust="spacingAndGlyphs">5'-7"</text>
<text x="679" y="902" class="i" font-size="12" textLength="30" lengthAdjust="spacingAndGlyphs">3'-0"</text>
<text x="553" y="936" class="i" font-size="18" textLength="199" lengthAdjust="spacingAndGlyphs">2-2" Metal conduits</text>
<text x="408" y="952" class="i" font-size="16" textLength="42" lengthAdjust="spacingAndGlyphs">10'-0"</text>
<text x="305" y="937" class="i" font-size="13">4"</text>
<text x="327" y="937" class="i" font-size="13">1'-6"</text>
<text x="328" y="952" class="i" font-size="13">4"</text>
<text x="352" y="952" class="i" font-size="12">1/2"</text>
<text x="489" y="952" class="i" font-size="12">1/2"</text>
<g stroke="#1a1a1a" stroke-width="1">
<rect x="611" y="955" width="196" height="5" fill="#fff"/>
<rect x="611" y="955" width="20" height="5" fill="#1a1a1a"/><rect x="650" y="955" width="20" height="5" fill="#1a1a1a"/><rect x="690" y="955" width="20" height="5" fill="#1a1a1a"/><rect x="730" y="955" width="20" height="5" fill="#1a1a1a"/><rect x="770" y="955" width="20" height="5" fill="#1a1a1a"/>
</g>
<text x="609" y="952" font-size="10">10</text>
<text x="650" y="952" font-size="10">5</text>
<text x="686" y="952" font-size="10">10</text>
<text x="726" y="952" font-size="10">15</text>
<text x="764" y="952" font-size="10">20</text>
<text x="800" y="952" font-size="10">25</text>
<text x="265" y="976" class="b" font-size="22" textLength="332" lengthAdjust="spacingAndGlyphs">SECTION THRU PLATFORM</text>
<rect x="270" y="964" width="1060" height="3" fill="#bbb"/>
</svg>
</body></html>
